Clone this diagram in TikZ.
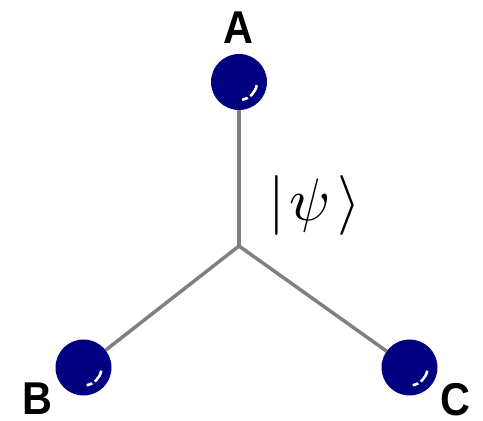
\documentclass[tikz,border=0pt]{standalone}
\usepackage{fontspec}
\setsansfont{Liberation Sans}
\usetikzlibrary{positioning}
\definecolor{atomblue}{RGB}{0,0,128}
\definecolor{bondgray}{RGB}{128,128,128}

\begin{document}
\begin{tikzpicture}[x=1pt, y=1pt]
  \tikzstyle{atom}=[circle, fill=atomblue, inner sep=0pt, minimum size=56pt]
  \tikzstyle{bond}=[draw=bondgray, line width=3.5pt]
  \tikzstyle{shine}=[draw=white, line width=2.6pt, dash pattern=on 13pt off 3pt on 6pt off 20pt]
  \tikzstyle{lbl}=[font=\sffamily\bfseries\fontsize{46}{52}\selectfont, inner sep=0pt, xscale=0.9]
  \useasboundingbox (0,0) rectangle (483,421);

  % ================= atoms and the junction =============
  \coordinate (mid) at (239,175);
  \node[atom] (atomA) at (239,339) {};
  \node[atom] (atomB) at (83.5,53.5) {};
  \node[atom] (atomC) at (409.5,53.5) {};

  % bonds from the junction out to each atom
  \draw[bond] (mid) -- (atomA);
  \draw[bond] (mid) -- (atomB);
  \draw[bond] (mid) -- (atomC);

  % highlight on each atom
  \foreach \a in {atomA,atomB,atomC}
    \draw[shine] ([shift={(-10:18pt)}]\a.center) arc (-10:-80:18pt);

  % ================= labels =============
  \node[lbl] (labA) at (238,393) {A};
  \node[lbl] (labB) at (37,22) {B};
  \node[lbl] (labC) at (455,21) {C};
  \node[inner sep=0pt, scale=6] (state) at (314.5,215) {$|\mkern1.5mu\psi\mkern2mu\rangle$};
\end{tikzpicture}
\end{document}
